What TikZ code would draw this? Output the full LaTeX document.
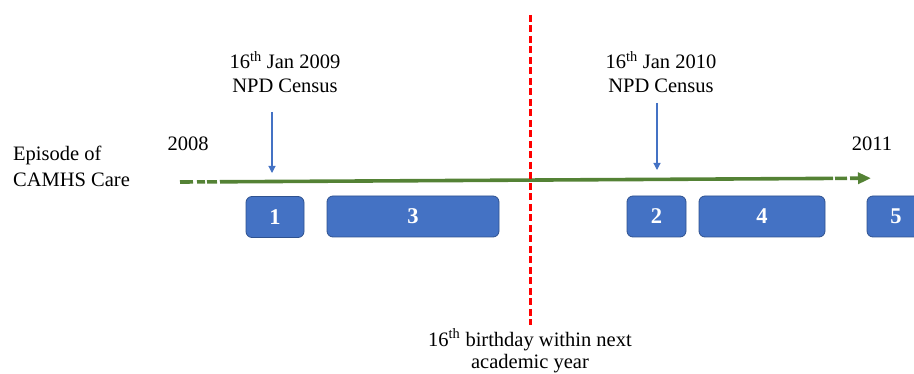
\documentclass[tikz,border=0pt]{standalone}
\usepackage{fontspec}
\setmainfont{Liberation Serif}
\usetikzlibrary{arrows.meta}
\definecolor{boxblue}{HTML}{4472C4}
\definecolor{boxedge}{HTML}{2F528F}
\definecolor{linegreen}{HTML}{548235}
\definecolor{arrowblue}{HTML}{4472C4}
\begin{document}
\begin{tikzpicture}[x=1pt,y=-1pt,
  lbl/.style={inner sep=0pt, font=\fontsize{20.5}{24}\selectfont, text=black},
  numbox/.style={draw=boxedge, line width=0.8pt, fill=boxblue, rounded corners=6pt,
     minimum height=41pt, inner sep=0pt, text=white, font=\fontsize{22.5}{24}\selectfont\bfseries},
  tl/.style={draw=linegreen, line width=3.6pt},
  census/.style={draw=arrowblue, line width=1.1pt, -{Triangle[length=7pt,width=7pt]}},
  birth/.style={draw=red, line width=3pt, dash pattern=on 7pt off 3.5pt}]
\useasboundingbox (0,0) rectangle (914,374);
% texts
\node[lbl, align=center] (c09) at (285,72) {16\textsuperscript{th} Jan 2009\\NPD Census};
\node[lbl, align=center] (c10) at (661,72) {16\textsuperscript{th} Jan 2010\\NPD Census};
\node[lbl] (y08) at (188,143.5) {2008};
\node[lbl] (y11) at (872,143.5) {2011};
\node[lbl, align=left, anchor=north west] (ep) at (13,146) {Episode of\\[2pt]CAMHS Care};
\node[lbl, align=center, anchor=north] (bd) at (530,328.5) {16\textsuperscript{th} birthday within next\\[-2pt]academic year};
% boxes
\node[numbox, minimum width=58pt] (b1) at (275,217) {1};
\node[numbox, minimum width=172pt] (b3) at (413,216.5) {3};
\node[numbox, minimum width=59pt] (b2) at (656.5,216.5) {2};
\node[numbox, minimum width=126pt] (b4) at (762,216.5) {4};
\node[numbox, minimum width=60pt] (b5) at (897,216.5) {\hspace*{-2pt}5};
% timeline
\coordinate (gs) at (180,182);
\coordinate (g1) at (220,181.8);
\coordinate (g2) at (833,178.4);
\coordinate (g3) at (835,178.4);
\coordinate (g4) at (847,178.3);
\coordinate (g5) at (850,178.3);
\coordinate (ge) at (871,178.2);
\draw[tl, dash pattern=on 13pt off 4pt on 8pt off 2pt on 10pt off 3pt] (gs) -- (g1);
\draw[tl] (g1) -- (g2);
\draw[tl] (g3) -- (g4);
\draw[tl, -{Triangle[length=13pt,width=11pt]}] (g5) -- (ge);
% census arrows
\coordinate (a1s) at (272,112);
\coordinate (a1e) at (272,173);
\coordinate (a2s) at (657,103);
\coordinate (a2e) at (657,170);
\draw[census] (a1s) -- (a1e);
\draw[census] (a2s) -- (a2e);
% birthday line
\coordinate (rs) at (530,15);
\coordinate (re) at (530,325);
\draw[birth] (rs) -- (re);
\end{tikzpicture}
\end{document}
